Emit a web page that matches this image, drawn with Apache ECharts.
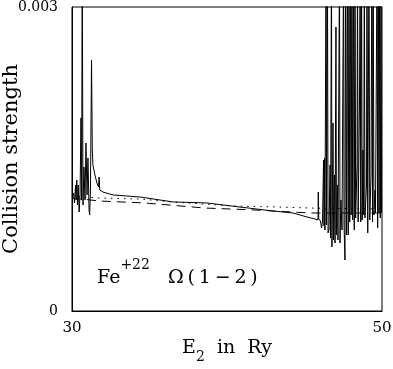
<!DOCTYPE html>
<html>
<head>
<meta charset="utf-8">
<script src="https://cdn.jsdelivr.net/npm/echarts@6/dist/echarts.min.js"></script>
<style>
  html, body { margin: 0; padding: 0; background: #fff; }
  #main { width: 393px; height: 369px; }
</style>
</head>
<body>
<div id="main"></div>
<script>
// axis ranges / tick labels
const xRange = [30, 50];
const yRange = [0, 0.003];
const yTickLabels = ['0', '0.003'];

// solid curve: [E2 (Ry), collision strength]
// values above 0.003 are resonance peaks running off the top
const solidOmega = [
  [30.00, 0.001125], [30.10, 0.001164], [30.16, 0.001066], [30.23, 0.001243],
  [30.26, 0.001095], [30.31, 0.001293], [30.35, 0.001046], [30.40, 0.001243],
  [30.46, 0.000977], [30.52, 0.001145], [30.58, 0.001905], [30.62, 0.001095],
  [30.66, 0.0035], [30.71, 0.001046], [30.77, 0.001421], [30.84, 0.001095],
  [30.90, 0.001658], [30.97, 0.001145], [31.03, 0.00151], [31.10, 0.000997],
  [31.14, 0.000947], [31.19, 0.001194], [31.26, 0.002477], [31.31, 0.001589],
  [31.35, 0.001441], [31.48, 0.001342], [31.61, 0.001263], [31.71, 0.001224],
  [31.75, 0.001322], [31.79, 0.001194], [32.00, 0.001174], [32.65, 0.001145],
  [34.39, 0.001125], [36.52, 0.001076], [38.71, 0.001066], [40.84, 0.001026],
  [42.97, 0.000987], [44.26, 0.000967], [45.16, 0.000928], [45.68, 0.000908],
  [45.87, 0.000898], [45.89, 0.001174], [45.92, 0.000908], [46.03, 0.000888],
  [46.10, 0.000819], [46.16, 0.000878], [46.23, 0.00149], [46.26, 0.000839],
  [46.29, 0.00151], [46.32, 0.000799], [46.39, 0.0035], [46.42, 0.000849],
  [46.48, 0.0035], [46.52, 0.00077], [46.58, 0.000799], [46.65, 0.001441],
  [46.68, 0.00072], [46.74, 0.0035], [46.77, 0.000632], [46.84, 0.001855],
  [46.87, 0.000701], [46.94, 0.001342], [46.97, 0.000671], [47.03, 0.002803],
  [47.06, 0.00075], [47.13, 0.001243], [47.16, 0.000701], [47.26, 0.0035],
  [47.29, 0.000671], [47.35, 0.001095], [47.42, 0.000799], [47.52, 0.0035],
  [47.55, 0.000849], [47.61, 0.000503], [47.65, 0.0035], [47.71, 0.00075],
  [47.77, 0.0035], [47.82, 0.00075], [47.87, 0.0035], [47.92, 0.000878],
  [47.97, 0.0035], [48.01, 0.000947], [48.06, 0.0035], [48.11, 0.000898],
  [48.16, 0.0035], [48.21, 0.000799], [48.26, 0.0035], [48.30, 0.000918],
  [48.39, 0.001441], [48.42, 0.0035], [48.46, 0.000878], [48.55, 0.002082],
  [48.59, 0.0035], [48.63, 0.000878], [48.68, 0.0035], [48.72, 0.000898],
  [48.77, 0.001589], [48.82, 0.000947], [48.86, 0.0035], [48.90, 0.000918],
  [49.00, 0.001243], [49.03, 0.0035], [49.08, 0.00077], [49.16, 0.0035],
  [49.21, 0.000898], [49.29, 0.001342], [49.35, 0.0035], [49.39, 0.000878],
  [49.43, 0.0035], [49.48, 0.000947], [49.55, 0.001194], [49.58, 0.000967],
  [49.68, 0.0035], [49.72, 0.000819], [49.76, 0.0035], [49.81, 0.000967],
  [49.85, 0.0035], [49.89, 0.000918], [49.94, 0.0035], [49.97, 0.000967],
  [50.00, 0.000967]
];

// dashed curve
const dashedOmega = [
  [30.00, 0.001115], [31.81, 0.001085], [34.71, 0.001066], [38.58, 0.001016],
  [41.81, 0.000997], [45.35, 0.000967], [50.00, 0.000967]
];

// dotted curve
const dottedOmega = [
  [30.00, 0.001135], [31.81, 0.001115], [34.39, 0.001105], [36.52, 0.001076],
  [40.39, 0.001036], [43.42, 0.001026], [45.35, 0.001016], [50.00, 0.001006]
];

const FONT = 'DejaVu Serif';
const TS = '\u2009'; // thin space, the original plot font is very wide

let chart = echarts.init(document.getElementById('main'));

let option = {
  animation: false,
  backgroundColor: '#fff',
  title: {
    left: 97,
    top: 258,
    padding: 0,
    text: '{a|Fe}{sup|+22}{a|   Ω' + TS + '(' + TS + '1' + TS + '−' + TS + '2' + TS + ')}',
    textStyle: {
      fontWeight: 'normal',
      rich: {
        a: { fontFamily: FONT, fontSize: 19, fontWeight: 'normal', color: '#000', lineHeight: 30, verticalAlign: 'bottom' },
        sup: { fontFamily: FONT, fontSize: 14, fontWeight: 'normal', color: '#000', lineHeight: 14, verticalAlign: 'top' }
      }
    }
  },
  grid: {
    left: 72,
    right: 11,
    top: 7,
    bottom: 58,
    outerBoundsMode: 'none',
    containLabel: false,
    show: true,
    borderColor: '#000',
    borderWidth: 1,
    backgroundColor: 'transparent'
  },
  xAxis: {
    type: 'value',
    min: xRange[0],
    max: xRange[1],
    interval: xRange[1] - xRange[0],
    name: '{a|E}{sub|2}{a|  in  Ry}',
    nameLocation: 'middle',
    nameGap: 28,
    nameMoveOverlap: false,
    nameTextStyle: {
      rich: {
        a: { fontFamily: FONT, fontSize: 19, color: '#000', lineHeight: 30, verticalAlign: 'top' },
        sub: { fontFamily: FONT, fontSize: 14, color: '#000', lineHeight: 14, verticalAlign: 'bottom', padding: [0, 0, 5, 0] }
      }
    },
    axisLine: { show: true, lineStyle: { color: '#000', width: 1 } },
    axisTick: { show: false },
    splitLine: { show: false },
    axisLabel: {
      margin: 10,
      fontFamily: FONT,
      fontSize: 15,
      color: '#000'
    }
  },
  yAxis: {
    type: 'value',
    min: yRange[0],
    max: yRange[1],
    interval: yRange[1] - yRange[0],
    name: 'Collision strength',
    nameLocation: 'middle',
    nameGap: 50,
    nameMoveOverlap: false,
    nameTextStyle: { fontFamily: FONT, fontSize: 21, color: '#000' },
    axisLine: { show: true, lineStyle: { color: '#000', width: 1 } },
    axisTick: { show: false },
    splitLine: { show: false },
    axisLabel: {
      margin: 14,
      fontFamily: FONT,
      fontSize: 14,
      color: '#000',
      formatter: function (v) {
        return v === 0 ? yTickLabels[0] : yTickLabels[1];
      }
    }
  },
  series: [{
      name: 'solid',
      type: 'line',
      data: solidOmega,
      symbol: 'none',
      clip: true,
      lineStyle: { color: '#000', width: 1 }
    },
    {
      name: 'dashed',
      type: 'line',
      data: dashedOmega,
      symbol: 'none',
      clip: true,
      lineStyle: { color: '#000', width: 1, type: [9, 6] }
    },
    {
      name: 'dotted',
      type: 'line',
      data: dottedOmega,
      symbol: 'none',
      clip: true,
      lineStyle: { color: '#000', width: 1, type: [1.5, 5] }
    }
  ]
};
if (option && typeof option === 'object') {
  chart.setOption(option);
}
</script>
</body>
</html>
